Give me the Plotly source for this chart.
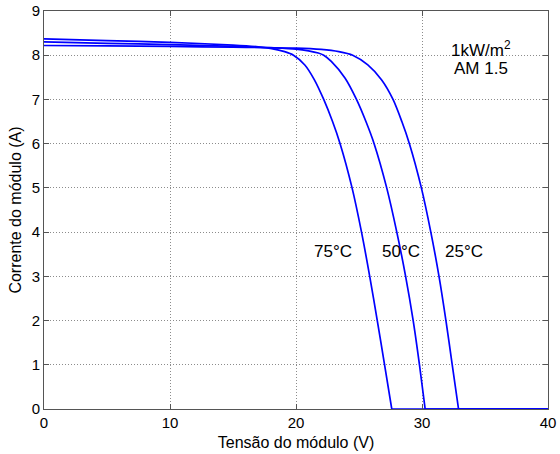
import plotly.graph_objects as go

# Data (module voltage V, module current A)
v_25 = [0, 5, 10, 15, 20, 22, 23.4, 24.5, 25.7, 26.8, 27.7, 28.4, 29.0, 29.95, 30.7, 31.35, 31.9, 32.4, 32.9]
i_25 = [8.22, 8.21, 8.20, 8.18, 8.16, 8.13, 8.08, 8.0, 7.78, 7.44, 7.0, 6.5, 6.0, 5.0, 4.0, 3.0, 2.0, 1.0, 0]

v_50 = [0, 5, 10, 15, 18, 20, 21, 21.77, 22.2, 22.8, 23.9, 24.8, 25.55, 26.2, 27.2, 28.0, 28.7, 29.3, 29.8, 30.25]
i_50 = [8.30, 8.27, 8.24, 8.20, 8.17, 8.14, 8.10, 8.05, 8.0, 7.86, 7.48, 7.0, 6.5, 6.0, 5.0, 4.0, 3.0, 2.0, 1.0, 0]

v_75 = [0, 5, 10, 15, 17, 18.07, 19.1, 19.8, 20.7, 21.45, 22.2, 22.9, 23.5, 24.45, 25.2, 25.85, 26.45, 27.03, 27.6]
i_75 = [8.37, 8.33, 8.29, 8.23, 8.19, 8.15, 8.08, 8.0, 7.78, 7.45, 7.0, 6.5, 6.0, 5.0, 4.0, 3.0, 2.0, 1.0, 0]

# beyond open-circuit voltage the current stays at zero up to the axis end
v_end = 40
i_end = 0

x_ticks = [0, 10, 20, 30, 40]
y_ticks = [0, 1, 2, 3, 4, 5, 6, 7, 8, 9]

FONT = "Liberation Sans, Arial, sans-serif"
BLUE = "#0000ff"

fig = go.Figure()
for v, i in [(v_25, i_25), (v_50, i_50), (v_75, i_75)]:
    fig.add_trace(go.Scatter(x=v, y=i, mode="lines",
                             line=dict(color=BLUE, width=1.7, shape="spline", smoothing=0.8),
                             showlegend=False, hoverinfo="skip"))
    fig.add_trace(go.Scatter(x=[v[-1], v_end], y=[i[-1], i_end], mode="lines",
                             line=dict(color=BLUE, width=1.7),
                             showlegend=False, hoverinfo="skip"))

axis_common = dict(
    showgrid=True, gridcolor="#8c8c8c", griddash="1px,2px", gridwidth=1,
    showline=True, linecolor="#555555", linewidth=1, mirror="ticks",
    ticks="inside", ticklen=5, tickcolor="#555555", zeroline=False,
    automargin=False,
    tickfont=dict(family=FONT, size=15, color="black"),
)

fig.update_xaxes(range=[0, 40], tickvals=x_ticks, **axis_common,
                 title=dict(text="Tensão do módulo (V)", font=dict(family=FONT, size=16, color="black"), standoff=6))
fig.update_yaxes(range=[0, 9], tickvals=y_ticks, **axis_common,
                 title=dict(text="Corrente do módulo (A)", font=dict(family=FONT, size=16, color="black"), standoff=6))

ann_font = dict(family=FONT, size=17, color="black")
for txt, x, y in [("75°C", 22.96, 3.56), ("50°C", 28.31, 3.56), ("25°C", 33.36, 3.56),
                  ("1kW/m<sup>2</sup>", 34.7, 8.15), ("AM 1.5", 34.7, 7.71)]:
    fig.add_annotation(x=x, y=y, text=txt, showarrow=False, font=ann_font,
                       xanchor="center", yanchor="middle")

fig.update_layout(
    width=560, height=454,
    margin=dict(l=44, r=12, t=11, b=45),
    plot_bgcolor="white", paper_bgcolor="white",
)

fig.write_html("out.html")
